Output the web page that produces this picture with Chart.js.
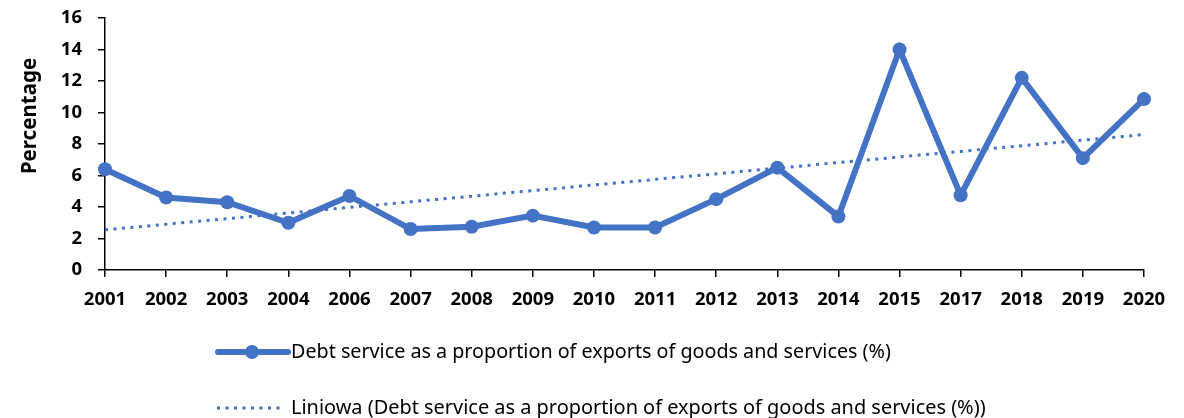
<!DOCTYPE html>
<html lang="en">
<head>
    <meta charset="UTF-8">
    <title>Debt service</title>
    <script src="https://cdn.jsdelivr.net/npm/chart.js@4.4.1/dist/chart.umd.min.js"></script>
    <style>
        html, body { margin: 0; padding: 0; background: #fff; }
        #wrap { width: 1184px; height: 418px; }
    </style>
</head>
<body>
<div id="wrap">
    <canvas id="chart" width="1184" height="418"></canvas>
</div>

<script>
    // values
    var years = ['2001', '2002', '2003', '2004', '2006', '2007', '2008', '2009', '2010',
                 '2011', '2012', '2013', '2014', '2015', '2017', '2018', '2019', '2020'];
    var debtService = [6.4, 4.6, 4.3, 3.0, 4.7, 2.6, 2.75, 3.45, 2.7,
                       2.7, 4.5, 6.5, 3.4, 14.0, 4.75, 12.2, 7.1, 10.85];
    // linear trend: only the two ends are read, the line spans the gap
    var trend = [2.55, null, null, null, null, null, null, null, null,
                 null, null, null, null, null, null, null, null, 8.6];
    var yTicks = [0, 2, 4, 6, 8, 10, 12, 14, 16];

    var seriesLabel = 'Debt service as a proportion of exports of goods and services (%)';
    var trendLabel = 'Liniowa (Debt service as a proportion of exports of goods and services (%))';
    var blue = '#4472C4';

    // draws the y title and the two-row legend like the original
    var extras = {
        id: 'extras',
        afterDraw: function (chart) {
            var ctx = chart.ctx;
            ctx.save();

            ctx.fillStyle = '#000';
            ctx.font = 'bold 20.5px "Noto Sans"';
            ctx.textAlign = 'center';
            ctx.textBaseline = 'middle';
            ctx.translate(30, 116);
            ctx.rotate(-Math.PI / 2);
            ctx.fillText('Percentage', 0, 0);
            ctx.setTransform(1, 0, 0, 1, 0, 0);

            var rows = [352, 408];
            var textWidths = [600, 695];
            chart.data.datasets.forEach(function (ds, i) {
                var y = rows[i];
                ctx.strokeStyle = ds.borderColor;
                ctx.lineWidth = ds.borderWidth;
                ctx.setLineDash(ds.borderDash || []);
                ctx.beginPath();
                if (ds.pointRadius > 0) {
                    ctx.lineCap = 'round';
                    ctx.moveTo(218, y);
                    ctx.lineTo(288, y);
                    ctx.stroke();
                    ctx.beginPath();
                    ctx.fillStyle = ds.borderColor;
                    ctx.arc(252, y, ds.pointRadius, 0, Math.PI * 2);
                    ctx.fill();
                } else {
                    ctx.lineCap = 'butt';
                    ctx.moveTo(217, y);
                    ctx.lineTo(284, y);
                    ctx.stroke();
                }
                ctx.setLineDash([]);
                ctx.font = '17px "Noto Sans"';
                var w = ctx.measureText(ds.label).width;
                var size = 17 * textWidths[i] / w;
                ctx.font = size.toFixed(2) + 'px "Noto Sans"';
                ctx.fillStyle = '#000';
                ctx.textAlign = 'left';
                ctx.textBaseline = 'middle';
                ctx.fillText(ds.label, 291, y);
            });
            ctx.restore();
        }
    };

    var ctx = document.getElementById('chart').getContext('2d');
    var chart = new Chart(ctx, {
        type: 'line',
        data: {
            labels: years,
            datasets: [
                {
                    label: seriesLabel,
                    data: debtService,
                    borderColor: blue,
                    backgroundColor: blue,
                    borderWidth: 6,
                    pointRadius: 7,
                    pointHoverRadius: 7,
                    pointBackgroundColor: blue,
                    pointBorderWidth: 0,
                    tension: 0
                },
                {
                    label: trendLabel,
                    data: trend,
                    borderColor: blue,
                    borderWidth: 3,
                    borderDash: [3, 5.5],
                    pointRadius: 0,
                    spanGaps: true,
                    tension: 0
                }
            ]
        },
        options: {
            responsive: false,
            animation: false,
            layout: { padding: { left: 0, right: 40, top: 18, bottom: 100 } },
            plugins: {
                legend: { display: false },
                tooltip: { enabled: false }
            },
            scales: {
                x: {
                    offset: false,
                    grid: { drawOnChartArea: false, drawTicks: true, tickLength: 7, color: '#000', lineWidth: 1.5 },
                    border: { color: '#000', width: 1.5 },
                    ticks: {
                        color: '#000',
                        font: { family: 'Noto Sans', size: 18.5, weight: 'bold' },
                        padding: 12,
                        maxRotation: 0,
                        autoSkip: false
                    },
                    afterFit: function (scale) { scale.height = 48; }
                },
                y: {
                    min: 0,
                    max: 16,
                    afterBuildTicks: function (scale) {
                        scale.ticks = yTicks.map(function (v) { return { value: v }; });
                    },
                    grid: { drawOnChartArea: false, drawTicks: true, tickLength: 7, color: '#000', lineWidth: 1.5 },
                    border: { color: '#000', width: 1.5 },
                    ticks: {
                        color: '#000',
                        font: { family: 'Noto Sans', size: 18.5, weight: 'bold' },
                        padding: 16
                    },
                    afterFit: function (scale) {
                        scale.width = 105;
                        scale.paddingTop = 0;
                        scale.paddingBottom = 0;
                    }
                }
            }
        },
        plugins: [extras]
    });
</script>
</body>
</html>
